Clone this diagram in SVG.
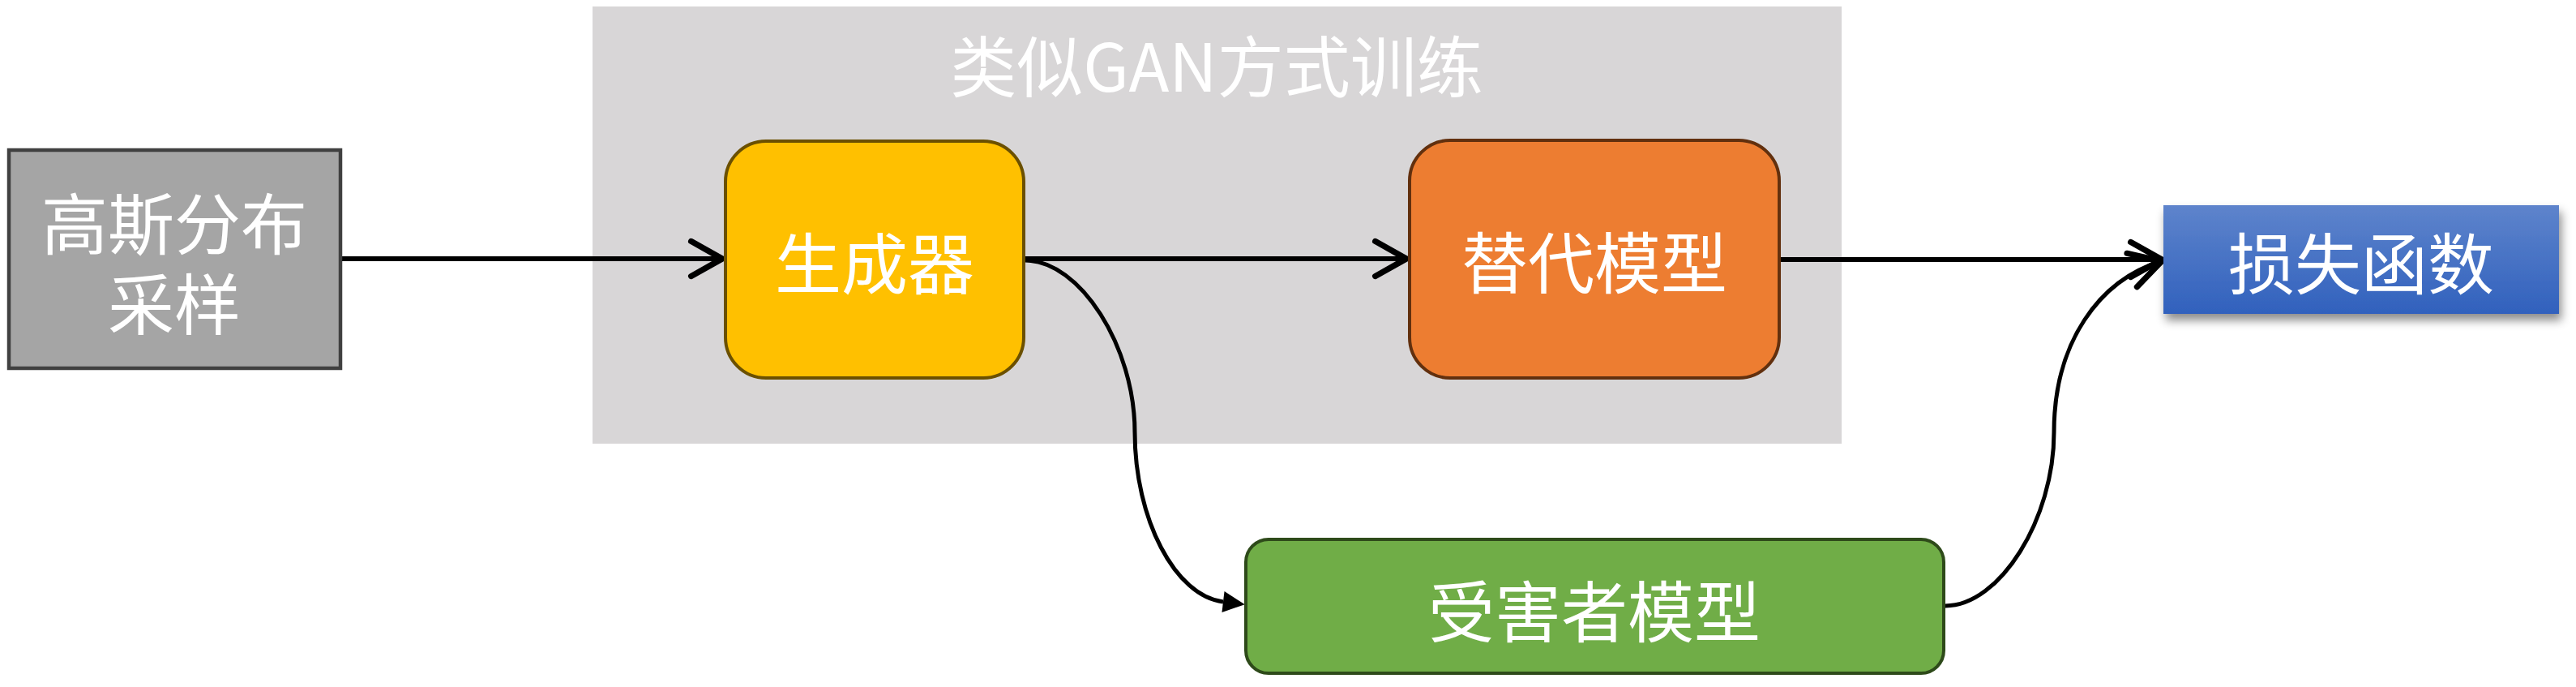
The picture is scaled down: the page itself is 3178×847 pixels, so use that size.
<svg xmlns="http://www.w3.org/2000/svg" width="3178" height="847" viewBox="0 0 3178 847">
<style>
.lbl{font-family:"Noto Sans CJK SC","Noto Sans",sans-serif;font-size:82px;fill:#ffffff;text-anchor:middle;dominant-baseline:central}
.conn{fill:none;stroke:#000000;stroke-width:6}
.curve{fill:none;stroke:#000000;stroke-width:5}
</style>
<defs>
<marker id="open" markerUnits="userSpaceOnUse" markerWidth="60" markerHeight="60" viewBox="-40 -25 50 50" refX="0" refY="0" orient="auto" overflow="visible">
<path d="M-32,-18 L0,0 L-32,18" fill="none" stroke="#000" stroke-width="6" stroke-linecap="round" stroke-linejoin="round"/>
</marker>
<marker id="tri" markerUnits="userSpaceOnUse" markerWidth="40" markerHeight="40" viewBox="-5 -20 40 40" refX="0" refY="0" orient="auto" overflow="visible">
<path d="M0,-13 L27,0 L0,13 Z" fill="#000"/>
</marker>
<linearGradient id="blue" x1="0" y1="0" x2="0" y2="1">
<stop offset="0" stop-color="#5e84cc"/>
<stop offset="1" stop-color="#3161bd"/>
</linearGradient>
<filter id="shadow" x="-10%" y="-20%" width="125%" height="160%">
<feDropShadow dx="3" dy="8" stdDeviation="6" flood-color="#000" flood-opacity="0.45"/>
</filter>
</defs>

<g id="gan-group">
<rect x="731" y="8" width="1541" height="539" fill="#d8d6d7"/>
<text class="lbl" x="1501" y="77">类似GAN方式训练</text>
</g>

<g id="connectors">
<line class="conn" x1="422" y1="319" x2="891" y2="319" marker-end="url(#open)"/>
<line class="conn" x1="1265" y1="319" x2="1735" y2="319" marker-end="url(#open)"/>
<line class="conn" x1="2197" y1="320" x2="2667" y2="320" marker-end="url(#open)"/>
<path class="curve" d="M1265,321 C1332,321 1400,427 1400,533 C1400,640 1450,735 1509,742" marker-end="url(#tri)"/>
<path class="curve" d="M2400,747 C2467,747 2534,640 2534,533 C2534,422 2590,345 2667,322" marker-end="url(#open)"/>
</g>

<g id="source">
<rect x="11" y="185" width="409" height="269" fill="#a5a5a5" stroke="#404040" stroke-width="4.5"/>
<text class="lbl"><tspan x="215" y="271">高斯分布</tspan><tspan x="215" y="370">采样</tspan></text>
</g>

<g id="generator">
<rect x="895" y="174" width="368" height="292" rx="50" ry="50" fill="#ffc000" stroke="#6b5000" stroke-width="4"/>
<text class="lbl" x="1079" y="320">生成器</text>
</g>

<g id="substitute">
<rect x="1739" y="173" width="456" height="293" rx="50" ry="50" fill="#ed7d31" stroke="#62300e" stroke-width="4"/>
<text class="lbl" x="1967" y="319">替代模型</text>
</g>

<g id="victim">
<rect x="1537" y="665" width="861" height="165" rx="28" ry="28" fill="#70ad47" stroke="#2e4a1a" stroke-width="4"/>
<text class="lbl" x="1967" y="749">受害者模型</text>
</g>

<g id="loss">
<rect x="2669" y="253" width="488" height="134" fill="url(#blue)" filter="url(#shadow)"/>
<text class="lbl" x="2913" y="320">损失函数</text>
</g>
</svg>
